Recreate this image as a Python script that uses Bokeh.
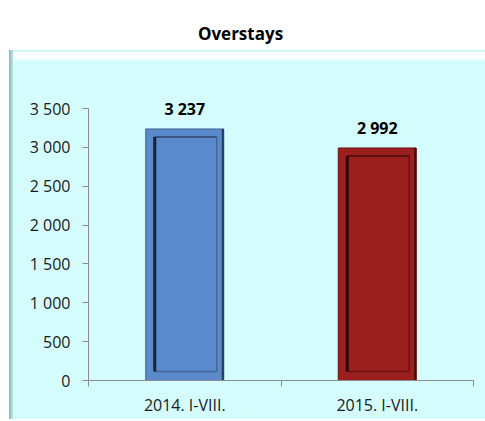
from bokeh.plotting import figure
from bokeh.models import FixedTicker, Range1d, Label, ColumnDataSource
from bokeh.core.properties import value
from bokeh.embed import file_html
from bokeh.resources import INLINE

# ---- data ----
categories = ["2014. I-VIII.", "2015. I-VIII."]
overstays = [3237, 2992]
bar_colors = ["#5A8ACB", "#9C1F1F"]
edge_colors = ["#46668C", "#6A1212"]
inner_colors = ["#3E5E86", "#5E0E0E"]
dark_colors = ["#142234", "#2A0505"]
y_ticks = [0, 500, 1000, 1500, 2000, 2500, 3000, 3500]
title_text = "Overstays"

FONT = "Open Sans"
W, H = 485, 421
FL, FR, FT, FB = 88, 12, 0, 41
frame_w = W - FL - FR
frame_h = H - FT - FB
y_end = frame_h * 3500 / 272.0

bg = ("linear-gradient(to right, #86B8B8 0px, #BCE5E5 4px, rgba(0,0,0,0) 4px) 9px 50px / calc(100% - 9px) 369px no-repeat, "
      "linear-gradient(to bottom, #BDF1F1 0px, #FFFFFF 3px, #FFFFFF 7px, #D4FCFC 12px, #D4FCFC 100%) 9px 50px / calc(100% - 9px) 369px no-repeat, "
      "#FFFFFF")

p = figure(width=W, height=H, output_backend="svg", toolbar_location=None,
           x_range=Range1d(0, len(categories)), y_range=Range1d(0, y_end),
           min_border_left=FL, min_border_right=FR, min_border_top=FT, min_border_bottom=FB,
           styles={"background": bg})
p.border_fill_alpha = 0
p.background_fill_alpha = 0
p.outline_line_color = None
p.grid.visible = False

xs = [i + 0.5 for i in range(len(categories))]
px_x = len(categories) / frame_w      # data units per pixel, x
px_y = y_end / frame_h                # data units per pixel, y
bw = 78 * px_x

src = ColumnDataSource(dict(x=xs, top=overstays, fill=bar_colors, edge=edge_colors, dark=dark_colors,
                            inner=inner_colors,
                            lbl=[f"{v:,}".replace(",", " ") for v in overstays],
                            l=[x - bw / 2 for x in xs], r=[x + bw / 2 - 1 * px_x for x in xs],
                            il=[x - bw / 2 + 9 * px_x for x in xs], ir=[x + bw / 2 - 7 * px_x for x in xs],
                            it=[v - 8 * px_y for v in overstays], ib=[9 * px_y for _ in overstays]))

# outer bar
p.vbar(x="x", top="top", bottom=0, width=bw, fill_color="fill", line_color="edge", line_width=1, source=src)
# outer right dark edge
p.segment(x0="r", y0=0, x1="r", y1="top", line_color="dark", line_width=2, line_alpha=0.75, source=src)
# inner bevel panel
p.quad(left="il", right="ir", top="it", bottom="ib", fill_color="fill", line_color="inner",
       line_width=1.5, line_alpha=0.8, source=src)
p.segment(x0="il", y0="ib", x1="il", y1="it", line_color="dark", line_width=3, source=src)
p.segment(x0="il", y0="it", x1="ir", y1="it", line_color="dark", line_width=1, line_alpha=0.6, source=src)

# value labels
p.text(x="x", y="top", text="lbl", source=src, text_align="center", text_baseline="middle",
       y_offset=-20, text_font=value(FONT), text_font_style="bold", text_font_size="16px",
       text_color="#000000")

# y axis
ya = p.yaxis[0]
ya.ticker = FixedTicker(ticks=y_ticks, minor_ticks=[])
ya.major_label_overrides = {t: f"{t:,}".replace(",", " ") for t in y_ticks}
ya.bounds = (0, 3500)
ya.axis_line_color = "#8C8C8C"
ya.major_tick_line_color = "#8C8C8C"
ya.major_tick_out = 6
ya.major_tick_in = 0
ya.major_label_standoff = 12
ya.major_label_text_font = FONT
ya.major_label_text_font_size = "16px"
ya.major_label_text_color = "#1A1A1A"

# x axis
xa = p.xaxis[0]
xa.ticker = FixedTicker(ticks=xs, minor_ticks=list(range(len(categories) + 1)))
xa.major_label_overrides = {x: c for x, c in zip(xs, categories)}
xa.axis_line_color = "#8C8C8C"
xa.major_tick_out = 0
xa.major_tick_in = 0
xa.minor_tick_out = 6
xa.minor_tick_in = 0
xa.minor_tick_line_color = "#8C8C8C"
xa.major_label_standoff = 7
xa.major_label_text_font = FONT
xa.major_label_text_font_size = "16px"
xa.major_label_text_color = "#1A1A1A"

# title (screen units relative to plot frame)
p.add_layout(Label(x=240 - FL, y=frame_h - 33, x_units="screen", y_units="screen",
                   text=title_text, text_align="center", text_baseline="middle",
                   text_font=FONT, text_font_style="bold", text_font_size="17px",
                   text_color="#000000"))

open("out.html", "w").write(file_html(p, INLINE))
